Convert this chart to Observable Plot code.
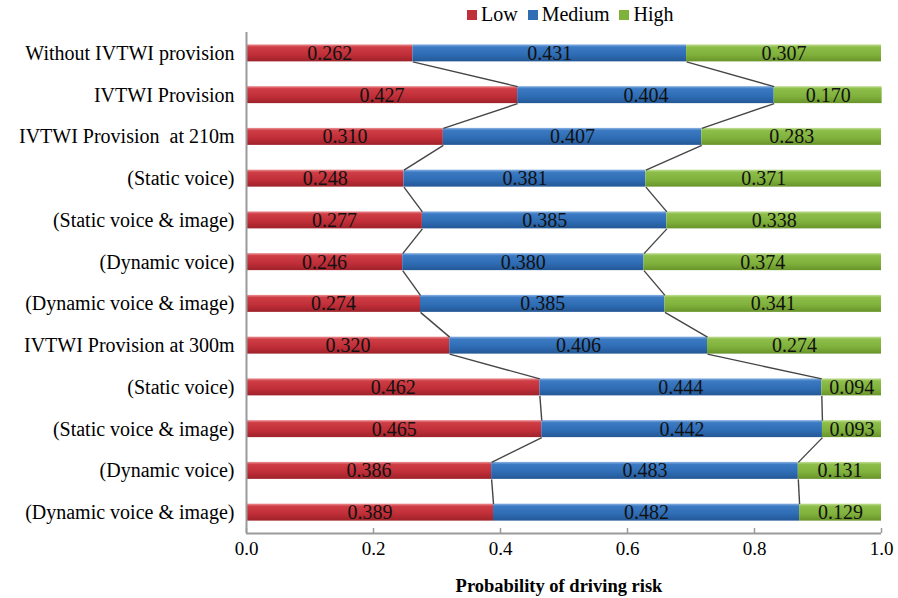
<!DOCTYPE html>
<html>
<head>
<meta charset="utf-8">
<script src="https://cdn.jsdelivr.net/npm/d3@7"></script>
<script src="https://cdn.jsdelivr.net/npm/@observablehq/plot@0.6"></script>
<style>
  html, body { margin: 0; padding: 0; background: #fff; }
  #wrap { position: relative; width: 898px; height: 598px; font-family: "Times New Roman", "Liberation Serif", serif; color: #000; }
  #legend { position: absolute; top: 3px; left: 467px; display: flex; align-items: center; font-size: 20px; white-space: nowrap; }
  #legend .item { display: flex; align-items: center; margin-right: 10px; }
  #legend .sw { width: 10px; height: 10px; margin-right: 4px; }
  #chart { position: absolute; top: 32px; left: 0; }
  #chart svg text { white-space: pre; }
  #xtitle { position: absolute; top: 576px; left: 240px; width: 638px; text-align: center; font-weight: bold; font-size: 18.5px; }
</style>
</head>
<body>
<div id="wrap">
  <div id="legend"></div>
  <div id="chart"></div>
  <div id="xtitle">Probability of driving risk</div>
</div>
<script>
// Scenario rows, top to bottom
const categories = [
  "Without IVTWI provision",
  "IVTWI Provision",
  "IVTWI Provision  at 210m",
  "(Static voice)",
  "(Static voice & image)",
  "(Dynamic voice)",
  "(Dynamic voice & image)",
  "IVTWI Provision at 300m",
  "(Static voice)",
  "(Static voice & image)",
  "(Dynamic voice)",
  "(Dynamic voice & image)"
];
const low    = [0.262, 0.427, 0.310, 0.248, 0.277, 0.246, 0.274, 0.320, 0.462, 0.465, 0.386, 0.389];
const medium = [0.431, 0.404, 0.407, 0.381, 0.385, 0.380, 0.385, 0.406, 0.444, 0.442, 0.483, 0.482];
const high   = [0.307, 0.170, 0.283, 0.371, 0.338, 0.374, 0.341, 0.274, 0.094, 0.093, 0.131, 0.129];
const seriesNames = ["Low", "Medium", "High"];
const xTicks = [0, 0.2, 0.4, 0.6, 0.8, 1.0];

const serif = "'Times New Roman', 'Liberation Serif', serif";
const legendColors = ["#c0303a", "#2f6db5", "#7fb23a"];
const gradients = [
  {id: "gLow",    stops: ["#ec9498", "#cf3d45", "#c02e38", "#9e222a"]},
  {id: "gMedium", stops: ["#8cb4e4", "#3c7ac3", "#2e6cb4", "#245896"]},
  {id: "gHigh",   stops: ["#c4e09a", "#8ebe4a", "#80b13c", "#68942a"]}
];

// Stack segments per row
const seriesVals = [low, medium, high];
const segments = [];
categories.forEach((c, i) => {
  let x = 0;
  seriesVals.forEach((vals, s) => {
    const v = vals[i];
    segments.push({row: i, series: s, x1: x, x2: x + v, value: v});
    x += v;
  });
});

// Connectors between stacked boundaries of consecutive rows
const width = 898, height = 541;
const marginTop = 0, marginBottom = 40;
const rowStep = (height - marginTop - marginBottom) / categories.length;
const half = 8.5 / rowStep; // half bar thickness in row units
const links = [];
for (let i = 0; i < categories.length - 1; i++) {
  links.push({x1: low[i], x2: low[i + 1], y1: i + half, y2: i + 1 - half});
  links.push({x1: low[i] + medium[i], x2: low[i + 1] + medium[i + 1], y1: i + half, y2: i + 1 - half});
}

const tickLen = 5 / rowStep;

const marks = [];
seriesVals.forEach((vals, s) => {
  marks.push(Plot.rectX(segments.filter(d => d.series === s), {
    x1: "x1", x2: "x2",
    y1: d => d.row - half, y2: d => d.row + half,
    fill: `url(#${gradients[s].id})`
  }));
});
marks.push(
  Plot.link(links, {x1: "x1", x2: "x2", y1: "y1", y2: "y2", stroke: "#454545", strokeWidth: 1.4}),
  Plot.text(segments, {
    x: d => (d.x1 + d.x2) / 2, y: "row",
    text: d => d.value.toFixed(3),
    fill: "#111", fontSize: 20, fontFamily: serif
  }),
  Plot.ruleX([0], {y1: -0.5, y2: categories.length - 0.5, stroke: "#9a9a9a", strokeWidth: 2}),
  Plot.ruleY([categories.length - 0.5], {x1: 0, x2: 1, stroke: "#9a9a9a", strokeWidth: 2}),
  Plot.ruleX(xTicks, {y1: categories.length - 0.5, y2: categories.length - 0.5 - tickLen, stroke: "#9a9a9a", strokeWidth: 1.5}),
  Plot.axisY({
    ticks: d3.range(categories.length),
    tickFormat: i => categories[i],
    tickSize: 0, tickPadding: 12, fontSize: 20, fontFamily: serif, fill: "#000"
  }),
  Plot.axisX({
    ticks: xTicks,
    tickFormat: d => d.toFixed(1),
    tickSize: 0, tickPadding: 8, fontSize: 19, fontFamily: serif, fill: "#000"
  })
);

const chart = Plot.plot({
  width, height,
  marginLeft: 246, marginRight: 17, marginTop, marginBottom,
  style: {fontFamily: serif, color: "#000", background: "white"},
  x: {domain: [0, 1], axis: null},
  y: {domain: [-0.5, categories.length - 0.5], reverse: true, axis: null},
  marks
});

// Vertical shading for the bar fills
const svg = d3.select(chart);
const defs = svg.insert("defs", ":first-child");
gradients.forEach(g => {
  const lg = defs.append("linearGradient").attr("id", g.id).attr("x1", 0).attr("y1", 0).attr("x2", 0).attr("y2", 1);
  [0, 0.15, 0.6, 1].forEach((o, k) => lg.append("stop").attr("offset", o).attr("stop-color", g.stops[k]));
});
document.getElementById("chart").appendChild(chart);

// Legend
const legend = d3.select("#legend");
seriesNames.forEach((name, s) => {
  const item = legend.append("div").attr("class", "item");
  item.append("div").attr("class", "sw").style("background", legendColors[s]);
  item.append("span").text(name);
});
</script>
</body>
</html>
